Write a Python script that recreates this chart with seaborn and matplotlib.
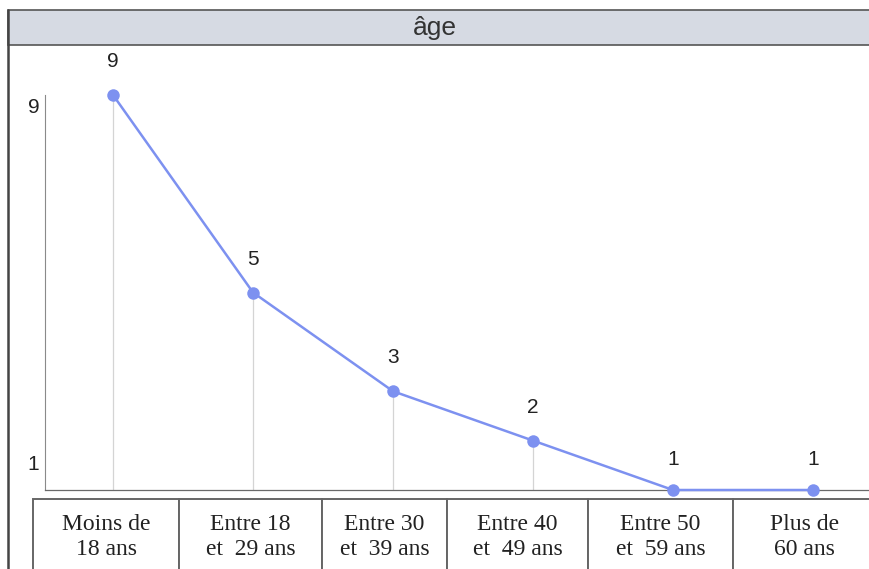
import matplotlib
matplotlib.use("Agg")
import matplotlib.pyplot as plt
import matplotlib.transforms as mtransforms
from matplotlib.patches import Rectangle
from matplotlib.lines import Line2D
import pandas as pd
import seaborn as sns

categories = ["Moins de\n18 ans", "Entre 18\net  29 ans", "Entre 30\net  39 ans",
              "Entre 40\net  49 ans", "Entre 50\net  59 ans", "Plus de\n60 ans"]
counts = [9, 5, 3, 2, 1, 1]
title = "âge"
y_ticks = [1, 9]

# cell borders of the category row (in category units)
cell_edges = [-0.571, 0.471, 1.493, 2.386, 3.393, 4.429, 5.45]

W, H = 870, 569
line_color = "#7d91f0"

sns.set_style("white")
plt.rcParams["font.family"] = ["Liberation Sans", "DejaVu Sans"]

df = pd.DataFrame({"pos": range(len(counts)), "n": counts})

fig = plt.figure(figsize=(W / 100, H / 100), dpi=100)
ax = fig.add_axes([45 / W, (H - 490) / H, (W - 45) / W, (490 - 95) / H])

ax.vlines(df["pos"], 1, df["n"], color="#d4d4d4", lw=0.9, zorder=1)
sns.lineplot(data=df, x="pos", y="n", ax=ax, color=line_color, lw=1.8,
             marker="o", markersize=9, markeredgewidth=0, zorder=3, clip_on=False)

for x, v in zip(df["pos"], df["n"]):
    off = 24 if v > 1 else 22
    ax.annotate(str(v), (x, v), xytext=(0, off), textcoords="offset points",
                ha="center", va="center", fontsize=15, color="#222222",
                annotation_clip=False)

ax.set_xlim(-0.486, 5.407)
ax.set_ylim(1, 9)
ax.set_xticks([])
ax.set_yticks([])
# y labels: "9" hangs just below the top, "1" sits a bit above the baseline
ytrans = mtransforms.blended_transform_factory(ax.transAxes, ax.transData)
for v, dy in zip(y_ticks, [18, -9]):
    ax.annotate(str(v), (0, v), xycoords=ytrans, xytext=(-4, dy),
                textcoords="offset points", ha="right", va="center",
                fontsize=15, color="#222222", annotation_clip=False)
ax.set_xlabel("")
ax.set_ylabel("")
for s in ["top", "right"]:
    ax.spines[s].set_visible(False)
ax.spines["left"].set_color("#8a8a8a")
ax.spines["left"].set_linewidth(0.8)
ax.spines["bottom"].set_color("#6a6a6a")
ax.spines["bottom"].set_linewidth(0.9)

# title band and outer frame
fig.patches.append(Rectangle((8 / W, 1 - 45 / H), 1, 35 / H, transform=fig.transFigure,
                             facecolor="#d6dae3", edgecolor="#555555", lw=1.2))
fig.lines.append(Line2D([8 / W, 8 / W], [0, 1 - 10 / H], transform=fig.transFigure,
                        color="#444444", lw=1.8))
fig.text(0.5, 1 - 28 / H, title, ha="center", va="center", fontsize=19, color="#333333")

# category row
trans = mtransforms.blended_transform_factory(ax.transData, fig.transFigure)
top = 1 - 499 / H
for i, lab in enumerate(categories):
    x0, x1 = cell_edges[i], cell_edges[i + 1]
    ax.add_patch(Rectangle((x0, -0.05), x1 - x0, top + 0.05, transform=trans,
                           facecolor="white", edgecolor="#666666", lw=1.4, clip_on=False))
    ax.text((x0 + x1) / 2, 1 - 537 / H, lab, transform=trans, ha="center", va="center",
            fontsize=17, family="Liberation Serif", color="#222222",
            linespacing=1.25, clip_on=False)

fig.savefig("out.png", dpi=100)
